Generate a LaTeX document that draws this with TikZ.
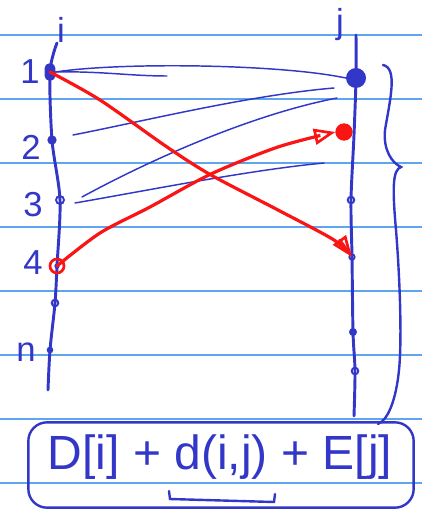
\documentclass[tikz,border=0pt]{standalone}
\usepackage{fontspec}
\setmainfont{Liberation Sans}
\usetikzlibrary{positioning, arrows.meta, calc}

\definecolor{inkblue}{RGB}{50,55,200}
\definecolor{penred}{RGB}{250,20,20}
\definecolor{ruleblue}{RGB}{95,165,240}

\begin{document}
\begin{tikzpicture}[x=0.75pt, y=-0.75pt,
    rule/.style={ruleblue, line width=0.9pt},
    axis/.style={inkblue, line width=2.2pt, line cap=round},
    wire/.style={inkblue, line width=1.1pt, line cap=round},
    redpen/.style={penred, line width=2.4pt, line cap=round, -{Triangle[open, length=16pt, width=12pt, line width=2pt]}},
    fulldot/.style={circle, fill=inkblue, inner sep=0pt, minimum size=#1},
    opendot/.style={circle, draw=inkblue, line width=1.4pt, inner sep=0pt, minimum size=#1},
    hand/.style={inkblue, inner sep=0pt, font=\fontsize{26}{30}\selectfont}]
        \useasboundingbox (0,0) rectangle (422,516);

        % Ruled paper
        \foreach \y in {35,99,...,483}
            \draw[rule] (0,\y) -- (422,\y);

        % The two vertical lines
        \draw[axis] plot[smooth] coordinates {(57,43) (50,72) (52,140) (60,200) (57,266) (55,303) (50,350) (48,390)};
        \draw[axis] plot[smooth] coordinates {(356,35) (356,78) (354,135) (351,200) (352,257) (353,332) (355,371) (354,416)};

        % Points on the left line
        \node[fill=inkblue, rounded corners=3.5pt, inner sep=0pt, minimum width=8pt, minimum height=13pt] (i1) at (50,72) {};
        \node[fulldot=7pt] (i2) at (52,140) {};
        \node[opendot=6pt] (i3) at (60,200) {};
        \node[fulldot=4pt] at (57,266) {};
        \node[circle, draw=penred, line width=2pt, inner sep=0pt, minimum size=10.5pt] (i4) at (57,266) {};
        \node[opendot=5pt] (i5) at (55,303) {};
        \node[fulldot=5pt] (in) at (50,350) {};

        % Points on the right line
        \node[fulldot=15pt] (j1) at (356,78) {};
        \node[circle, draw=penred, fill=penred, line width=1.5pt, inner sep=0pt, minimum size=11.5pt] (j2) at (344,132) {};
        \node[opendot=5pt] (j3) at (351,200) {};
        \node[opendot=4pt] (j4) at (352,257) {};
        \node[fulldot=6pt] (j5) at (353,332) {};
        \node[opendot=5pt] (j6) at (355,371) {};

        % Labels
        \node[hand] (li) at (61,30) {i};
        \node[hand] (lj) at (340,25) {j};
        \node[hand] (l1) at (30,72) {1};
        \node[hand] (l2) at (31,147) {2};
        \node[hand] (l3) at (33,205) {3};
        \node[hand] (l4) at (33,263) {4};
        \node[hand] (ln) at (26,352) {n};

        % Loose ends of the thin lines
        \coordinate (b1) at (167,76);
        \coordinate (b2) at (334,88);
        \coordinate (b3) at (337,98);
        \coordinate (b4) at (324,163);

        % Thin lines
        \draw[wire] (i1.east) .. controls (120,62) and (280,64) .. (j1.west);
        \draw[wire] (i1.east) .. controls (100,71) and (130,76) .. (b1);
        \draw[wire] ($(i2)+(21,-5)$) .. controls (140,122) and (250,95) .. (b2);
        \draw[wire] ($(i3)+(22,-3)$) .. controls (150,160) and (250,115) .. (b3);
        \draw[wire] ($(i3)+(15,3)$) .. controls (150,190) and (250,170) .. (b4);

        % Red arrows
        \draw[redpen] plot[smooth] coordinates {(i1) (100,100) (167,147) (211,175) (278,210) (334,240) (j4)};
        \draw[redpen] plot[smooth] coordinates {(i4) (100,233) (150,207) (211,174) (278,147) (j2.west)};

        % Brace
        \draw[wire, line width=1.8pt] (383,65) .. controls (398,68) and (390,100) .. (385,130)
            .. controls (383,150) and (392,163) .. (401,167)
            .. controls (393,170) and (392,185) .. (396,230)
            .. controls (400,280) and (402,340) .. (399,370)
            .. controls (396,400) and (388,420) .. (378,424);

        % Formula in its frame
        \node[draw=inkblue, line width=1.8pt, rounded corners=14pt, minimum width=289pt, minimum height=64pt] (frame) at (221,465) {};
        \node[inkblue, font=\fontsize{36}{42}\selectfont] (sum) at (220,457) {D[i] + d(i,j) + E[j]};
        \draw[wire, line width=1.8pt] (169,491) -- (170,499) -- (274,502) -- (275,494);
    \end{tikzpicture}
\end{document}
